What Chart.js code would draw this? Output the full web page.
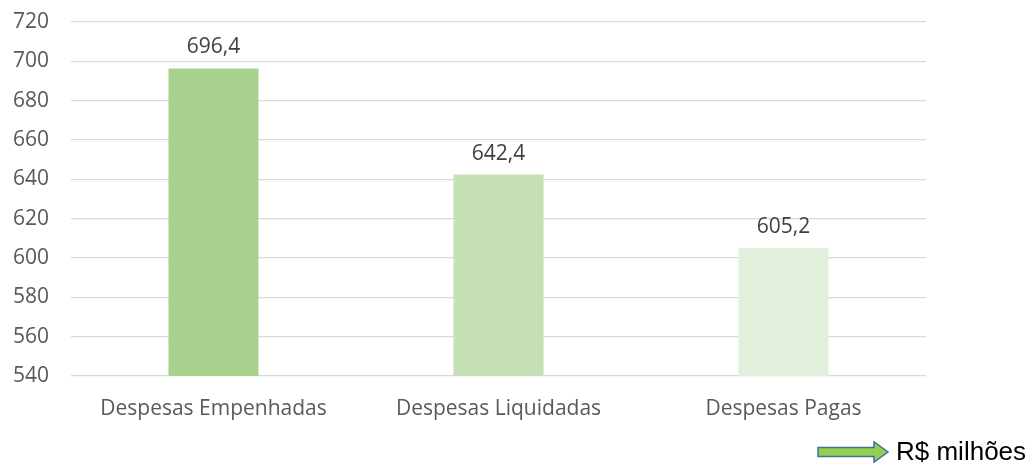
<!DOCTYPE html>
<html><head><meta charset="utf-8">
<script src="https://cdn.jsdelivr.net/npm/chart.js@4.4.1/dist/chart.umd.min.js"></script>
<style>html,body{margin:0;padding:0;background:#fff}#wrap{width:1032px;height:464px;position:relative}</style>
</head><body><div id="wrap"><canvas id="c" width="1032" height="464"></canvas></div>
<script>
const categories = ["Despesas Empenhadas", "Despesas Liquidadas", "Despesas Pagas"];
const values = [696.4, 642.4, 605.2];
const valueLabels = ["696,4", "642,4", "605,2"];
const barColors = ["#A9D18E", "#C5E0B4", "#E2EFDA"];
const unitLabel = "R$ milhões";

const FONT = "'Open Sans', 'Noto Sans', sans-serif";

const labelPlugin = {
  id: 'valLabels',
  afterDatasetsDraw(chart) {
    const ctx = chart.ctx;
    const meta = chart.getDatasetMeta(0);
    ctx.save();
    ctx.font = "21px " + FONT;
    ctx.fillStyle = "#404040";
    ctx.textAlign = "center";
    ctx.textBaseline = "alphabetic";
    meta.data.forEach((bar, i) => {
      ctx.fillText(valueLabels[i], bar.x, bar.y - 15);
    });
    ctx.restore();
  },
  afterDraw(chart) {
    const ctx = chart.ctx;
    ctx.save();
    const x0 = 818, x1 = 888, yc = 452, hl = 14;
    ctx.beginPath();
    ctx.moveTo(x0, yc - 4.5);
    ctx.lineTo(x1 - hl, yc - 4.5);
    ctx.lineTo(x1 - hl, yc - 10);
    ctx.lineTo(x1, yc);
    ctx.lineTo(x1 - hl, yc + 10);
    ctx.lineTo(x1 - hl, yc + 4.5);
    ctx.lineTo(x0, yc + 4.5);
    ctx.closePath();
    ctx.fillStyle = "#92D050";
    ctx.fill();
    ctx.strokeStyle = "#41719C";
    ctx.lineWidth = 1.5;
    ctx.stroke();
    ctx.font = "26px 'Liberation Sans', Arial, sans-serif";
    ctx.fillStyle = "#000";
    ctx.textAlign = "left";
    ctx.textBaseline = "alphabetic";
    ctx.fillText(unitLabel, 896, 460);
    ctx.restore();
  }
};

new Chart(document.getElementById('c'), {
  type: 'bar',
  data: {
    labels: categories,
    datasets: [{ data: values, backgroundColor: barColors, borderWidth: 0, categoryPercentage: 1, barPercentage: 0.316 }]
  },
  options: {
    responsive: false,
    animation: false,
    devicePixelRatio: 1,
    layout: { padding: { left: 10, right: 106, top: 22, bottom: 0 } },
    plugins: { legend: { display: false }, tooltip: { enabled: false } },
    scales: {
      x: {
        grid: { display: false, drawTicks: false },
        border: { display: false },
        ticks: { color: "#595959", font: { family: FONT, size: 21 }, padding: 20 },
        afterFit(s) { s.height = 88; s.paddingLeft = 0; s.paddingRight = 0; }
      },
      y: {
        min: 540, max: 720,
        ticks: { stepSize: 20, color: "#595959", font: { family: FONT, size: 21 }, padding: 22 },
        grid: { color: "#D9D9D9", lineWidth: 1.3, drawTicks: false },
        border: { display: false },
        afterFit(s) { s.width = 61; s.paddingTop = 0; s.paddingBottom = 0; }
      }
    }
  },
  plugins: [labelPlugin]
});
</script>
</body></html>
